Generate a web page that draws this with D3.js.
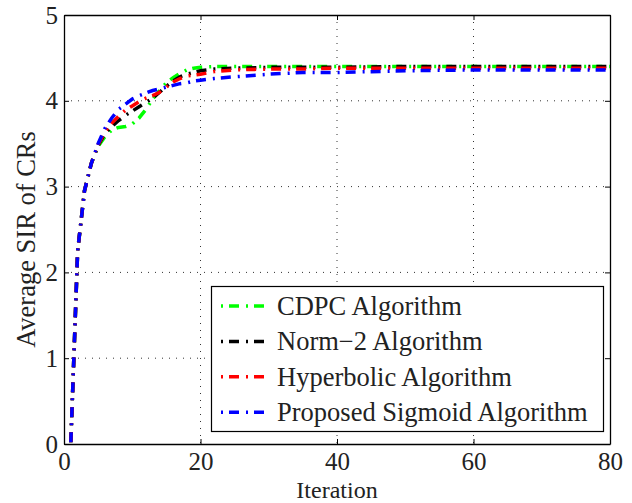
<!DOCTYPE html>
<html>
<head>
<meta charset="utf-8">
<script src="https://cdn.jsdelivr.net/npm/d3@7"></script>
<style>
  body { margin: 0; background: #fff; }
  text { font-family: "Liberation Serif", "Times New Roman", serif; fill: #222; }
</style>
</head>
<body>
<script>
var svg_Width = 632;
var svg_Height = 503;

var svg_margin = { top: 15, right: 22, bottom: 59, left: 64 };

var width = svg_Width - svg_margin.left - svg_margin.right;
var height = svg_Height - svg_margin.top - svg_margin.bottom;

// iteration points
var iterations = [1, 2, 3, 4, 5, 6, 7, 8, 9, 10, 11, 12, 13, 14, 15, 16, 17, 18, 19, 20, 22, 25, 30, 35, 40, 50, 60, 70, 80];

// average SIR per algorithm
var cdpc = [0.02, 2.25, 2.95, 3.27, 3.47, 3.58, 3.66, 3.69, 3.70, 3.73, 3.80, 3.90, 4.02, 4.12, 4.21, 4.27, 4.32, 4.36, 4.38, 4.39, 4.40, 4.40, 4.40, 4.40, 4.40, 4.40, 4.40, 4.40, 4.40];
var norm2 = [0.02, 2.25, 2.95, 3.27, 3.48, 3.62, 3.70, 3.77, 3.83, 3.88, 3.93, 3.98, 4.03, 4.10, 4.17, 4.23, 4.28, 4.31, 4.33, 4.35, 4.37, 4.38, 4.39, 4.39, 4.39, 4.40, 4.40, 4.40, 4.40];
var hyperbolic = [0.02, 2.25, 2.95, 3.27, 3.49, 3.64, 3.74, 3.82, 3.89, 3.94, 3.99, 4.03, 4.06, 4.10, 4.16, 4.22, 4.26, 4.29, 4.30, 4.31, 4.34, 4.36, 4.37, 4.37, 4.38, 4.38, 4.38, 4.38, 4.38];
var sigmoid = [0.02, 2.25, 2.95, 3.27, 3.50, 3.68, 3.80, 3.90, 3.96, 4.02, 4.06, 4.09, 4.12, 4.14, 4.16, 4.18, 4.20, 4.21, 4.23, 4.24, 4.26, 4.28, 4.31, 4.33, 4.33, 4.35, 4.36, 4.36, 4.36];

var seriesNames = ["CDPC Algorithm", "Norm\u22122 Algorithm", "Hyperbolic Algorithm", "Proposed Sigmoid Algorithm"];
var seriesColors = ["#00ff00", "#000000", "#ff0000", "#0000ff"];
var seriesValues = [cdpc, norm2, hyperbolic, sigmoid];

var xTicks = [0, 20, 40, 60, 80];
var yTicks = [0, 1, 2, 3, 4, 5];

var fontFam = "'Liberation Serif', 'Times New Roman', serif";
var fontSize = "26.5px";
var dashes = "10,7,2,6";

var svg = d3.select("body")
  .append("svg")
  .attr("width", svg_Width)
  .attr("height", svg_Height);

var svg_group = svg.append("g")
  .attr("transform", `translate(${svg_margin.left}, ${svg_margin.top})`);

var xScale = d3.scaleLinear().domain([0, 80]).range([0, width]);
var yScale = d3.scaleLinear().domain([0, 5]).range([height, 0]);

// dotted grid
svg_group.append("g")
  .selectAll("line")
  .data(xTicks.slice(1, -1))
  .enter()
  .append("line")
  .attr("x1", d => xScale(d)).attr("x2", d => xScale(d))
  .attr("y1", 0).attr("y2", height)
  .attr("stroke", "#333")
  .attr("stroke-width", 1)
  .attr("stroke-dasharray", "1,6");

svg_group.append("g")
  .selectAll("line")
  .data(yTicks.slice(1, -1))
  .enter()
  .append("line")
  .attr("x1", 0).attr("x2", width)
  .attr("y1", d => yScale(d)).attr("y2", d => yScale(d))
  .attr("stroke", "#333")
  .attr("stroke-width", 1)
  .attr("stroke-dasharray", "1,6");

// axes with inward ticks on all four sides
var bottomAxis = d3.axisBottom(xScale).tickValues(xTicks).tickFormat(d3.format("d"))
  .tickSizeInner(-5).tickSizeOuter(0).tickPadding(8.5);
var leftAxis = d3.axisLeft(yScale).tickValues(yTicks).tickFormat(d3.format("d"))
  .tickSizeInner(-5).tickSizeOuter(0).tickPadding(6);
var topAxis = d3.axisTop(xScale).tickValues(xTicks).tickSizeInner(-5).tickSizeOuter(0).tickFormat("");
var rightAxis = d3.axisRight(yScale).tickValues(yTicks).tickSizeInner(-5).tickSizeOuter(0).tickFormat("");

svg_group.append("g")
  .attr("transform", `translate(0, ${height})`)
  .call(bottomAxis);
svg_group.append("g").call(leftAxis);
svg_group.append("g").call(topAxis);
svg_group.append("g").attr("transform", `translate(${width}, 0)`).call(rightAxis);

svg_group.selectAll(".domain").attr("stroke", "#000").attr("stroke-width", 1.3);
svg_group.selectAll(".tick line").attr("stroke", "#000");
svg_group.selectAll(".tick text")
  .style("font-family", fontFam)
  .style("font-size", "25px")
  .attr("fill", "#222");

// curves
var line = d3.line()
  .x((d, i) => xScale(iterations[i]))
  .y(d => yScale(d));

seriesValues.forEach(function (vals, k) {
  svg_group.append("path")
    .datum(vals)
    .attr("d", line)
    .attr("fill", "none")
    .attr("stroke", seriesColors[k])
    .attr("stroke-width", 3.5)
    .attr("stroke-dasharray", dashes);
});

// legend
var legend = svg.append("g");
legend.append("rect")
  .attr("x", 211.5).attr("y", 286.5)
  .attr("width", 392).attr("height", 145)
  .attr("fill", "#fff")
  .attr("stroke", "#000")
  .attr("stroke-width", 1.2);

seriesNames.forEach(function (name, k) {
  var cy = 306 + k * 35.4;
  legend.append("line")
    .attr("x1", 221).attr("x2", 271)
    .attr("y1", cy).attr("y2", cy)
    .attr("stroke", seriesColors[k])
    .attr("stroke-width", 3.5)
    .attr("stroke-dasharray", dashes)
    .attr("stroke-dashoffset", 17);
  legend.append("text")
    .attr("x", 277)
    .attr("y", cy + 9)
    .style("font-family", fontFam)
    .style("font-size", fontSize)
    .text(name);
});

// axis titles
svg.append("text")
  .attr("x", svg_margin.left + width / 2)
  .attr("y", 497.5)
  .attr("text-anchor", "middle")
  .style("font-family", fontFam)
  .style("font-size", "24px")
  .text("Iteration");

svg.append("text")
  .attr("transform", "rotate(-90)")
  .attr("x", -(svg_margin.top + height / 2 + 10))
  .attr("y", 35)
  .attr("text-anchor", "middle")
  .style("font-family", fontFam)
  .style("font-size", fontSize)
  .text("Average SIR of CRs");
</script>
</body>
</html>
